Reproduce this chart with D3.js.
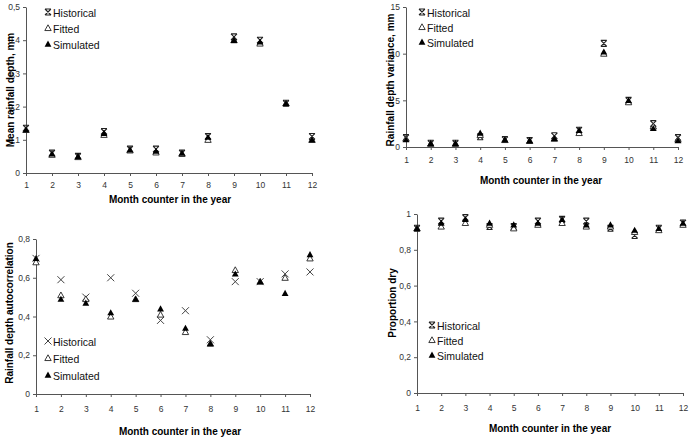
<!DOCTYPE html>
<html>
<head>
<meta charset="utf-8">
<script src="https://cdn.jsdelivr.net/npm/d3@7"></script>
<style>
  body { margin: 0; background: #fff; }
  svg { font-family: "Liberation Sans", Arial, sans-serif; }
</style>
</head>
<body>
<svg id="chart" width="697" height="439"></svg>
<script>
const months = [1, 2, 3, 4, 5, 6, 7, 8, 9, 10, 11, 12];
const seriesNames = ["Historical", "Fitted", "Simulated"];

// Mean rainfall depth, mm
const meanHist = [0.135, 0.06, 0.05, 0.125, 0.072, 0.072, 0.06, 0.11, 0.41, 0.40, 0.21, 0.11];
const meanFit  = [0.13, 0.055, 0.048, 0.115, 0.068, 0.062, 0.058, 0.10, 0.40, 0.39, 0.21, 0.10];
const meanSim  = [0.13, 0.058, 0.05, 0.12, 0.07, 0.066, 0.06, 0.108, 0.40, 0.395, 0.21, 0.10];
const meanTicks = [0, 0.1, 0.2, 0.3, 0.4, 0.5];

// Rainfall depth variance, mm
const varHist = [1.0, 0.4, 0.4, 1.1, 0.8, 0.7, 1.2, 1.8, 11.1, 5.0, 2.5, 1.0];
const varFit  = [0.9, 0.35, 0.35, 1.3, 0.75, 0.65, 0.9, 1.5, 10.0, 4.8, 2.2, 0.8];
const varSim  = [0.8, 0.4, 0.4, 1.5, 0.8, 0.7, 0.9, 1.8, 10.2, 5.0, 2.0, 0.7];
const varTicks = [0, 5, 10, 15];

// Rainfall depth autocorrelation
const acHist = [0.70, 0.59, 0.50, 0.60, 0.52, 0.38, 0.43, 0.28, 0.58, 0.58, 0.62, 0.63];
const acFit  = [0.68, 0.51, 0.49, 0.40, 0.49, 0.41, 0.32, 0.26, 0.64, 0.58, 0.60, 0.70];
const acSim  = [0.70, 0.49, 0.47, 0.42, 0.49, 0.44, 0.34, 0.26, 0.62, 0.58, 0.52, 0.72];
const acTicks = [0, 0.2, 0.4, 0.6, 0.8];

// Proportion dry
const dryHist = [0.92, 0.96, 0.98, 0.93, 0.93, 0.96, 0.97, 0.96, 0.92, 0.88, 0.92, 0.95];
const dryFit  = [0.92, 0.93, 0.95, 0.94, 0.92, 0.94, 0.95, 0.93, 0.93, 0.90, 0.91, 0.94];
const drySim  = [0.92, 0.95, 0.97, 0.95, 0.94, 0.95, 0.97, 0.94, 0.94, 0.91, 0.92, 0.95];
const dryTicks = [0, 0.2, 0.4, 0.6, 0.8, 1];

const svg = d3.select("#chart");

const panels = [
  { hist: meanHist, fit: meanFit, sim: meanSim, ticks: meanTicks, cross: false,
    xr: [26, 312], yr: [173, 7], pad: 6, yTitle: "Mean rainfall depth, mm", yTitleX: 10, yTitleY: 90,
    xTitleX: 170, xTitleY: 203, legX: 48, legY: [13, 29, 45] },
  { hist: varHist, fit: varFit, sim: varSim, ticks: varTicks, cross: false,
    xr: [406, 678], yr: [147, 7], pad: 7, yTitle: "Rainfall depth variance, mm", yTitleX: 390, yTitleY: 80,
    xTitleX: 541, xTitleY: 184, legX: 422, legY: [13, 28, 43] },
  { hist: acHist, fit: acFit, sim: acSim, ticks: acTicks, cross: true,
    xr: [36, 310], yr: [394, 239], pad: 9, yTitle: "Rainfall depth autocorrelation", yTitleX: 9, yTitleY: 313,
    xTitleX: 180, xTitleY: 435, legX: 48, legY: [342, 359, 376] },
  { hist: dryHist, fit: dryFit, sim: drySim, ticks: dryTicks, cross: false,
    xr: [417, 683], yr: [393, 214], pad: 9, yTitle: "Proportion dry", yTitleX: 392, yTitleY: 303,
    xTitleX: 550, xTitleY: 432, legX: 432, legY: [326, 341, 356] }
];

const fmt = d => String(d).replace(".", ",");

// marker shapes
function starPath(s) {
  return `M${-s},${-s}L${s},${s}M${s},${-s}L${-s},${s}M${-s},${-s}L${s},${-s}M${-s},${s}L${s},${s}`;
}
function crossPath(s) {
  return `M${-s},${-s}L${s},${s}M${s},${-s}L${-s},${s}`;
}
function triPath(s) {
  return `M0,${-s}L${s},${s * 0.8}L${-s},${s * 0.8}Z`;
}

function drawMarker(g, kind, cross, x, y) {
  if (kind === 0) {
    g.append("path")
      .attr("transform", `translate(${x},${y})`)
      .attr("d", cross ? crossPath(3.5) : starPath(3))
      .attr("fill", "none")
      .attr("stroke", cross ? "#444" : "#222")
      .attr("stroke-width", cross ? 1 : 1.1);
  } else if (kind === 1) {
    g.append("path")
      .attr("transform", `translate(${x},${y})`)
      .attr("d", triPath(3.2))
      .attr("fill", "#fff")
      .attr("stroke", "#222")
      .attr("stroke-width", 0.9);
  } else {
    g.append("path")
      .attr("transform", `translate(${x},${y})`)
      .attr("d", triPath(3.4))
      .attr("fill", "#000");
  }
}

panels.forEach(p => {
  const x = d3.scaleLinear().domain([1, 12]).range(p.xr);
  const y = d3.scaleLinear().domain([0, d3.max(p.ticks)]).range(p.yr);
  const g = svg.append("g");

  // x axis
  const xa = g.append("g")
    .attr("transform", `translate(0,${p.yr[0]})`)
    .call(d3.axisBottom(x).tickValues(months).tickFormat(d3.format("d")).tickSize(3).tickPadding(p.pad).tickSizeOuter(0));
  // y axis
  const ya = g.append("g")
    .attr("transform", `translate(${p.xr[0]},0)`)
    .call(d3.axisLeft(y).tickValues(p.ticks).tickFormat(fmt).tickSize(3).tickPadding(3).tickSizeOuter(0));

  [xa, ya].forEach(a => {
    a.select(".domain").attr("stroke", "#555");
    a.selectAll(".tick line").attr("stroke", "#555");
    a.selectAll(".tick text").attr("fill", "#333").style("font-size", "8.5px");
  });

  // titles
  g.append("text")
    .attr("x", p.xTitleX).attr("y", p.xTitleY)
    .attr("text-anchor", "middle")
    .style("font-size", "10px").style("font-weight", "bold")
    .text("Month counter in the year");
  g.append("text")
    .attr("transform", `translate(${p.yTitleX},${p.yTitleY}) rotate(-90)`)
    .attr("text-anchor", "middle")
    .attr("dy", "0.35em")
    .style("font-size", "10px").style("font-weight", "bold")
    .text(p.yTitle);

  // points
  const sets = [p.hist, p.fit, p.sim];
  sets.forEach((vals, k) => {
    months.forEach((m, i) => drawMarker(g, k, p.cross, x(m), y(vals[i])));
  });

  // legend
  seriesNames.forEach((name, k) => {
    drawMarker(g, k, p.cross, p.legX, p.legY[k] - 1);
    g.append("text")
      .attr("x", p.legX + 5).attr("y", p.legY[k])
      .attr("dy", "0.35em")
      .style("font-size", "10.5px")
      .attr("fill", "#111")
      .text(name);
  });
});
</script>
</body>
</html>
